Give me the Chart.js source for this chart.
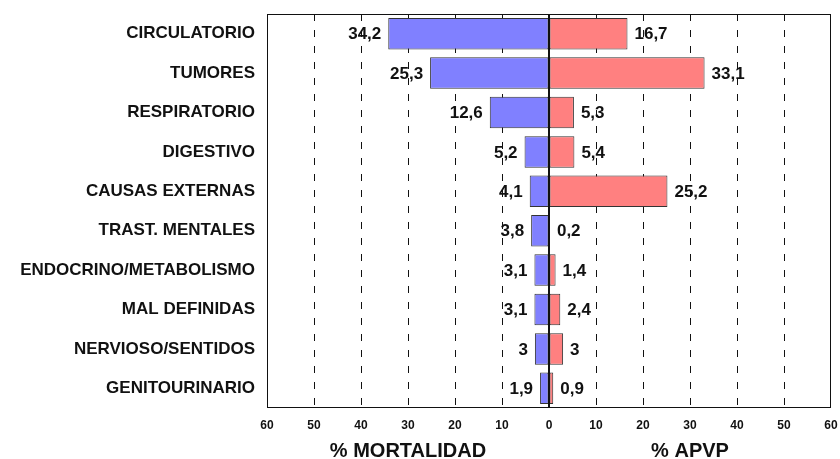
<!DOCTYPE html>
<html>
<head>
<meta charset="utf-8">
<script src="https://cdn.jsdelivr.net/npm/chart.js"></script>
<style>
    html, body { margin: 0; padding: 0; background: #fff; }
    #wrap { width: 840px; height: 459px; }
</style>
</head>
<body>
<div id="wrap"><canvas id="chart" width="840" height="459"></canvas></div>
<script>
const categories = ['CIRCULATORIO', 'TUMORES', 'RESPIRATORIO', 'DIGESTIVO', 'CAUSAS EXTERNAS',
    'TRAST. MENTALES', 'ENDOCRINO/METABOLISMO', 'MAL DEFINIDAS', 'NERVIOSO/SENTIDOS', 'GENITOURINARIO'];
const mortalidad = [34.2, 25.3, 12.6, 5.2, 4.1, 3.8, 3.1, 3.1, 3, 1.9];
const apvp = [16.7, 33.1, 5.3, 5.4, 25.2, 0.2, 1.4, 2.4, 3, 0.9];
const axisTitles = ['% MORTALIDAD', '% APVP'];

const fontFamily = '"Liberation Sans", Arial, sans-serif';
Chart.defaults.font.family = fontFamily;
Chart.defaults.color = '#111';

function fmt(v) {
    return String(Math.abs(v)).replace('.', ',');
}

// value labels next to the bar ends
const valueLabels = {
    id: 'valueLabels',
    afterDatasetsDraw(chart) {
        const ctx = chart.ctx;
        ctx.save();
        ctx.font = 'bold 17px ' + fontFamily;
        ctx.fillStyle = '#111';
        ctx.textBaseline = 'middle';
        chart.data.datasets.forEach((ds, di) => {
            chart.getDatasetMeta(di).data.forEach((bar, i) => {
                const left = ds.data[i] < 0;
                ctx.textAlign = left ? 'right' : 'left';
                ctx.fillText(fmt(ds.data[i]), bar.x + (left ? -7 : 7), bar.y + 1);
            });
        });
        ctx.restore();
    }
};

// box, zero line and the two axis titles
const frame = {
    id: 'frame',
    afterDraw(chart) {
        const ctx = chart.ctx;
        const a = chart.chartArea;
        const x = chart.scales.x;
        ctx.save();
        ctx.strokeStyle = '#111';
        ctx.lineWidth = 1;
        ctx.strokeRect(a.left + 0.5, a.top + 0.5, a.right - a.left - 1, a.bottom - a.top - 1);
        ctx.lineWidth = 2;
        const x0 = Math.round(x.getPixelForValue(0));
        ctx.beginPath();
        ctx.moveTo(x0, a.top);
        ctx.lineTo(x0, a.bottom);
        ctx.stroke();
        ctx.font = 'bold 20px ' + fontFamily;
        ctx.fillStyle = '#111';
        ctx.textAlign = 'center';
        ctx.textBaseline = 'middle';
        ctx.fillText(axisTitles[0], x.getPixelForValue(-30), 451);
        ctx.fillText(axisTitles[1], x.getPixelForValue(30), 451);
        ctx.restore();
    }
};

new Chart(document.getElementById('chart'), {
    type: 'bar',
    data: {
        labels: categories,
        datasets: [
            {
                label: axisTitles[0],
                data: mortalidad.map(v => -v),
                backgroundColor: '#8080FF',
                borderColor: '#333',
                borderWidth: 1,
                borderSkipped: false,
                barPercentage: 0.8,
                categoryPercentage: 1
            },
            {
                label: axisTitles[1],
                data: apvp,
                backgroundColor: '#FF8080',
                borderColor: '#333',
                borderWidth: 1,
                borderSkipped: false,
                barPercentage: 0.8,
                categoryPercentage: 1
            }
        ]
    },
    options: {
        indexAxis: 'y',
        responsive: false,
        animation: false,
        layout: { padding: { top: 14, right: 9, left: 0, bottom: 0 } },
        plugins: {
            legend: { display: false },
            tooltip: { enabled: false }
        },
        scales: {
            x: {
                stacked: true,
                min: -60,
                max: 60,
                ticks: {
                    stepSize: 10,
                    padding: 10,
                    font: { size: 12, weight: 'bold' },
                    callback: v => Math.abs(v)
                },
                grid: {
                    drawTicks: false,
                    color: c => (c.tick && (c.tick.value === 0 || Math.abs(c.tick.value) === 60)) ? 'rgba(0,0,0,0)' : '#111',
                    lineWidth: 1
                },
                border: { display: false, dash: [7, 9] },
                afterFit: s => { s.height = 51; s.paddingLeft = 0; s.paddingRight = 0; }
            },
            y: {
                stacked: true,
                ticks: {
                    padding: 12,
                    font: { size: 17, weight: 'bold' }
                },
                grid: { display: false, drawTicks: false },
                border: { display: false },
                afterFit: s => { s.width = 267; s.paddingTop = 0; s.paddingBottom = 0; }
            }
        }
    },
    plugins: [valueLabels, frame]
});
</script>
</body>
</html>
